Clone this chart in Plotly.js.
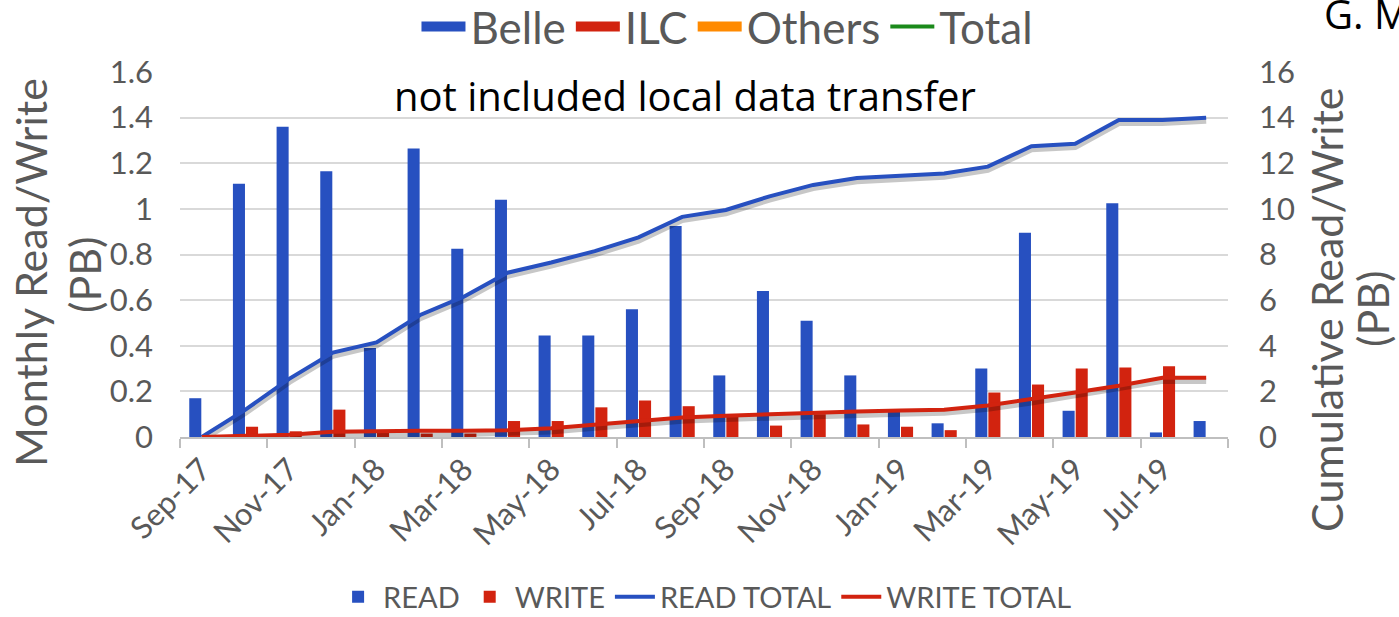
<!DOCTYPE html>
<html>
<head>
<meta charset="utf-8">
<script src="https://cdn.plot.ly/plotly-3.0.1.min.js"></script>
<style>
html,body{margin:0;padding:0;background:#fff;}
#chart{width:1399px;height:617px;}
</style>
</head>
<body>
<div id="chart"></div>
<script>
var months = ["Sep-17","Oct-17","Nov-17","Dec-17","Jan-18","Feb-18","Mar-18","Apr-18","May-18","Jun-18","Jul-18","Aug-18","Sep-18","Oct-18","Nov-18","Dec-18","Jan-19","Feb-19","Mar-19","Apr-19","May-19","Jun-19","Jul-19","Aug-19"];
var readMonthly = [0.17,1.11,1.36,1.165,0.39,1.265,0.825,1.04,0.445,0.445,0.56,0.925,0.27,0.64,0.51,0.27,0.11,0.06,0.30,0.895,0.115,1.025,0.02,0.07];
var writeMonthly = [0,0.045,0.025,0.12,0.02,0.015,0.015,0.07,0.07,0.13,0.16,0.135,0.09,0.05,0.1,0.055,0.045,0.03,0.195,0.23,0.30,0.305,0.31,0];
var readTotal = [0,1.2,2.55,3.7,4.15,5.35,6.15,7.2,7.65,8.15,8.75,9.65,9.95,10.55,11.05,11.35,11.45,11.55,11.85,12.75,12.85,13.9,13.9,14.0];
var writeTotal = [0,0.05,0.1,0.23,0.27,0.27,0.27,0.3,0.38,0.55,0.72,0.85,0.93,1.0,1.06,1.12,1.16,1.2,1.38,1.65,1.95,2.25,2.6,2.6];
var topLegendNames = ["Belle","ILC","Others","Total"];

var BLUE = "#2750C0", RED = "#D2230F", ORANGE = "#FF8A00", GREEN = "#1B8A1B", GRAY = "#595959";
var FONT = "Lato, 'Open Sans', sans-serif";
var SHADOW = "rgba(0,0,0,0.22)";

var traces = [
  {type:"bar", name:"READ", x:months, y:readMonthly, marker:{color:BLUE}, xaxis:"x", yaxis:"y", legend:"legend"},
  {type:"bar", name:"WRITE", x:months, y:writeMonthly, marker:{color:RED}, xaxis:"x", yaxis:"y", legend:"legend"},
  /* soft drop shadows of the cumulative lines (same data on a slightly shifted hidden scale) */
  {type:"scatter", mode:"lines", x:months, y:readTotal, line:{color:SHADOW, width:6}, xaxis:"x", yaxis:"y2", showlegend:false, hoverinfo:"skip"},
  {type:"scatter", mode:"lines", x:months, y:writeTotal, line:{color:SHADOW, width:6}, xaxis:"x", yaxis:"y2", showlegend:false, hoverinfo:"skip"},
  {type:"scatter", mode:"lines", name:"READ TOTAL", x:months, y:readTotal, line:{color:BLUE, width:4}, xaxis:"x", yaxis:"y3", legend:"legend"},
  {type:"scatter", mode:"lines", name:"WRITE TOTAL", x:months, y:writeTotal, line:{color:RED, width:4}, xaxis:"x", yaxis:"y3", legend:"legend"},
  /* top legend entries (legend only) */
  {type:"scatter", mode:"lines", name:topLegendNames[0], x:[null], y:[null], line:{color:BLUE, width:18}, xaxis:"x2", yaxis:"y4", legend:"legend2", hoverinfo:"skip"},
  {type:"scatter", mode:"lines", name:topLegendNames[1], x:[null], y:[null], line:{color:RED, width:18}, xaxis:"x2", yaxis:"y4", legend:"legend2", hoverinfo:"skip"},
  {type:"scatter", mode:"lines", name:topLegendNames[2], x:[null], y:[null], line:{color:ORANGE, width:18}, xaxis:"x2", yaxis:"y4", legend:"legend2", hoverinfo:"skip"},
  {type:"scatter", mode:"lines", name:topLegendNames[3], x:[null], y:[null], line:{color:GREEN, width:4}, xaxis:"x2", yaxis:"y4", legend:"legend2", hoverinfo:"skip"}
];

var layout = {
  width:1399, height:617,
  margin:{l:180, r:171, t:72, b:180, autoexpand:false},
  paper_bgcolor:"#fff", plot_bgcolor:"#fff",
  font:{family:FONT, color:GRAY},
  barmode:"group", bargap:0.4, bargroupgap:0.08,
  showlegend:true,
  xaxis:{
    type:"category", dtick:2, tickson:"boundaries",
    ticks:"outside", ticklen:9, tickcolor:"#BFBFBF", tickwidth:2,
    showline:true, linecolor:"#BFBFBF", linewidth:2,
    showgrid:false, tickangle:-45, automargin:false,
    tickfont:{family:FONT, size:31, color:GRAY},
    range:[-0.5, 23.5]
  },
  xaxis2:{visible:false, overlaying:"x", anchor:"y4"},
  yaxis:{
    range:[0,1.6], dtick:0.2, showgrid:true, gridcolor:"#D9D9D9", gridwidth:2,
    zeroline:false, ticks:"", ticklabelstandoff:26, automargin:false,
    tickfont:{family:FONT, size:31, color:GRAY}
  },
  yaxis2:{range:[0.14,16.14], overlaying:"y", side:"right", visible:false, showgrid:false, zeroline:false},
  yaxis3:{
    range:[0,16], dtick:2, overlaying:"y", side:"right", showgrid:false, zeroline:false,
    ticks:"", ticklabelstandoff:30, automargin:false,
    tickfont:{family:FONT, size:31, color:GRAY}
  },
  yaxis4:{visible:false, overlaying:"y", anchor:"x2"},
  legend:{
    xref:"container", yref:"container",
    orientation:"h", x:0.504, xanchor:"center", y:1-597/617, yanchor:"middle",
    font:{family:FONT, size:29, color:GRAY}, itemwidth:40,
    traceorder:"normal", bgcolor:"rgba(0,0,0,0)"
  },
  legend2:{
    xref:"container", yref:"container",
    orientation:"h", x:0.52, xanchor:"center", y:1-27/617, yanchor:"middle",
    font:{family:FONT, size:44, color:GRAY}, itemwidth:44,
    traceorder:"normal", bgcolor:"rgba(0,0,0,0)"
  },
  annotations:[
    {text:"not included local data transfer", xref:"paper", yref:"paper", x:(685-180)/1048, y:(437-96)/365, xanchor:"center", yanchor:"middle", showarrow:false, font:{family:"'Open Sans', 'Noto Sans', sans-serif", size:40, color:"#000"}},
    {text:"Monthly Read/Write", xref:"paper", yref:"paper", x:(30-180)/1048, y:(437-273)/365, xanchor:"center", yanchor:"middle", textangle:-90, showarrow:false, font:{family:FONT, size:43, color:GRAY}},
    {text:"(PB)", xref:"paper", yref:"paper", x:(84-180)/1048, y:(437-275)/365, xanchor:"center", yanchor:"middle", textangle:-90, showarrow:false, font:{family:FONT, size:43, color:GRAY}},
    {text:"Cumulative Read/Write", xref:"paper", yref:"paper", x:(1326-180)/1048, y:(437-310)/365, xanchor:"center", yanchor:"middle", textangle:-90, showarrow:false, font:{family:FONT, size:43, color:GRAY}},
    {text:"(PB)", xref:"paper", yref:"paper", x:(1372-180)/1048, y:(437-309)/365, xanchor:"center", yanchor:"middle", textangle:-90, showarrow:false, font:{family:FONT, size:43, color:GRAY}},
    {text:"G. M", xref:"paper", yref:"paper", x:(1322-180)/1048, y:(437-14)/365, xanchor:"left", yanchor:"middle", showarrow:false, font:{family:"'Open Sans', sans-serif", size:40, color:"#000"}}
  ]
};

Plotly.newPlot("chart", traces, layout, {displayModeBar:false, staticPlot:true});
</script>
</body>
</html>
